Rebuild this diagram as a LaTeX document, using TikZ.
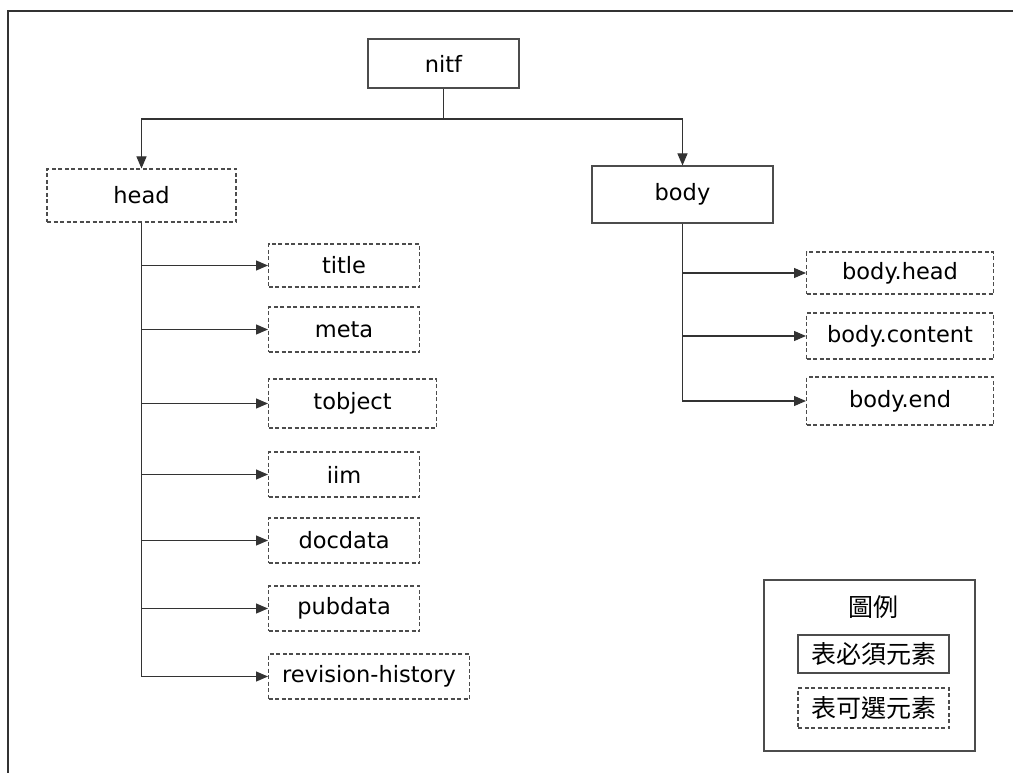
\documentclass[tikz,border=0pt]{standalone}
\usepackage{fontspec}
\setmainfont{DejaVu Sans}
\newfontfamily\cjk{Noto Sans CJK TC}
\usetikzlibrary{arrows.meta}
\tikzset{m/.style = {draw=black!70, line width=1.1pt, inner sep=0pt, font=\fontsize{22.5}{27}\selectfont},
    o/.style = {m, dash pattern=on 4pt off 2.5pt},
    c/.style = {draw=black!80, line width=1.1pt},
    g/.style = {m, font=\cjk\fontsize{25}{29}\selectfont}}

\begin{document}
\begin{tikzpicture}[x=1pt, y=-1pt, >={Triangle[length=12pt,width=10pt]}]
        \useasboundingbox (0,0) rectangle (1013,773);
        \draw[c] (8,773) -- (8,11) -- (1013,11);

        \node[m, minimum width=151pt, minimum height=49pt] (nitf) at (443.5,63.5) {nitf};
        \node[o, minimum width=189pt, minimum height=53pt] (head) at (141.5,195.5) {head};
        \node[m, minimum width=181pt, minimum height=57pt] (body) at (682.5,194.5) {body};
        \coordinate (split) at (443.5,119);

        \draw[c] (nitf) -- (split);
        \draw[c, ->] (split) -| (head);
        \draw[c, ->] (split) -| (body);

        \foreach \n/\t/\y/\w/\h in {title/title/265.5/151/43, meta/meta/329.5/151/45,
            tobject/tobject/403.5/168/49, iim/iim/474.5/151/45, docdata/docdata/540.5/151/45,
            pubdata/pubdata/608.5/151/45, revhist/revision-history/676.5/201/45}
        {
            \node[o, anchor=west, minimum width=\w pt, minimum height=\h pt] (\n) at (268,\y) {\t};
            \draw[c, ->] (head) |- (\n);
        }

        \foreach \n/\t/\y/\h in {bhead/body.head/273/42, bcontent/body.content/336/46, bend/body.end/401/48}
        {
            \node[o, anchor=west, minimum width=187pt, minimum height=\h pt] (\n) at (806,\y) {\t};
            \draw[c, ->] (body) |- (\n);
        }

        % legend
        \node[m, minimum width=211pt, minimum height=171pt] (legend) at (869.5,665.5) {};
        \node[font=\cjk\fontsize{25}{29}\selectfont] (lgtitle) at (873,607) {圖例};
        \node[g, minimum width=151pt, minimum height=38pt] (req) at (873.5,654) {表必須元素};
        \node[g, dash pattern=on 4pt off 2.5pt, minimum width=151pt, minimum height=40pt] (opt) at (873.5,708) {表可選元素};
    \end{tikzpicture}
\end{document}
